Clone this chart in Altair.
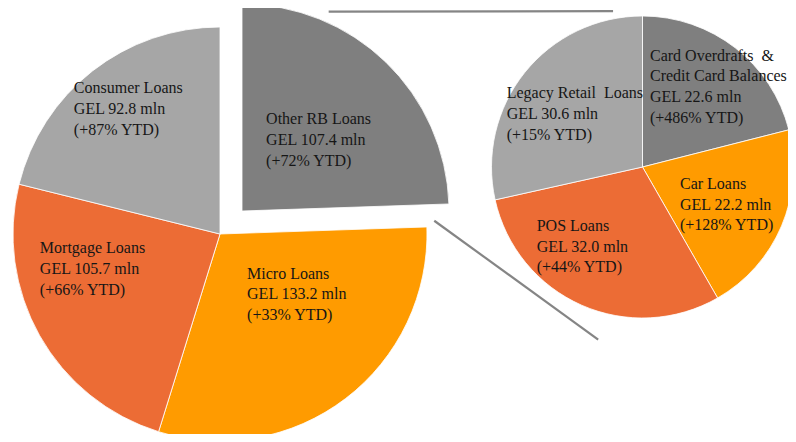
import math
import altair as alt
import pandas as pd

# ---------------- data ----------------
main_names = ["Other RB Loans", "Micro Loans", "Mortgage Loans", "Consumer Loans"]
main_values = [107.4, 133.2, 105.7, 92.8]
main_ytd = [72, 33, 66, 87]

sub_names = ["Card Overdrafts\u00a0 &\nCredit Card Balances", "Car Loans", "POS Loans", "Legacy Retail\u00a0 Loans"]
sub_values = [22.6, 22.2, 32.0, 30.6]
sub_ytd = [486, 128, 44, 15]

# ---------------- styles / layout ----------------
slice_colors = ["#7f7f7f", "#ff9b00", "#ec6c35", "#a6a6a6"]
W, H = 780, 426
MAIN_C = (212, 226)
MAIN_R = 207
EXPLODE = (22, -23)
SUB_C = (634.5, 159)
SUB_R = 151
LABEL_RF = 0.55
FONT = "Liberation Serif"
# per-label nudges (dx, dy) from the slice's mid-angle point
main_nudge = [(-55, -5), (-42, -46), (-81, -36.6), (-76, -51)]
sub_nudge = [(-43.5, -40.7), (-39, -10.4), (-72.3, -12), (-71, -16.8)]


def slices(names, values, ytd):
    total = sum(values)
    cum = 0.0
    rows = []
    for i, (n, v, y) in enumerate(zip(names, values, ytd)):
        t0 = cum / total * 2 * math.pi
        cum += v
        t1 = cum / total * 2 * math.pi
        rows.append(dict(idx=i, name=n, value=v, t0=t0, t1=t1, tm=(t0 + t1) / 2,
                         color=slice_colors[i],
                         label=f"{n}\nGEL {v:.1f} mln\n(+{y}% YTD)"))
    return pd.DataFrame(rows)


main_df = slices(main_names, main_values, main_ytd)
sub_df = slices(sub_names, sub_values, sub_ytd)

theta0 = alt.Theta("t0:Q", scale=None, stack=False)
theta1 = alt.Theta2("t1:Q")
col = alt.Color("color:N", scale=None, legend=None)
arc_style = dict(stroke="white", strokeWidth=0.8)

main_rest = alt.Chart(main_df[main_df.idx > 0]).mark_arc(outerRadius=MAIN_R, **arc_style).encode(
    theta=theta0, theta2=theta1, color=col,
    x=alt.value(MAIN_C[0]), y=alt.value(MAIN_C[1]))

ex_c = (MAIN_C[0] + EXPLODE[0], MAIN_C[1] + EXPLODE[1])
main_ex = alt.Chart(main_df[main_df.idx == 0]).mark_arc(outerRadius=MAIN_R, **arc_style).encode(
    theta=theta0, theta2=theta1, color=col,
    x=alt.value(ex_c[0]), y=alt.value(ex_c[1]))

sub_arcs = alt.Chart(sub_df).mark_arc(outerRadius=SUB_R, **arc_style).encode(
    theta=theta0, theta2=theta1, color=col,
    x=alt.value(SUB_C[0]), y=alt.value(SUB_C[1]))


# connector lines between the exploded slice and the secondary pie
def polar(c, r, deg):
    a = math.radians(deg)
    return c[0] + r * math.sin(a), c[1] - r * math.cos(a)


p1 = polar(ex_c, 1.05 * MAIN_R, 23.5)
p2 = polar(SUB_C, 1.05 * SUB_R, -10.7)
p3 = polar(ex_c, 0.93 * MAIN_R, 92.9)
p4 = polar(SUB_C, 1.18 * SUB_R, 194.4)
conn_df = pd.DataFrame([
    dict(x=p1[0], y=p1[1], x2=p2[0], y2=p2[1]),
    dict(x=p3[0], y=p3[1], x2=p4[0], y2=p4[1]),
])
connectors = alt.Chart(conn_df).mark_rule(color="#858585", strokeWidth=2.2).encode(
    x=alt.X("x:Q", scale=None, axis=None), y=alt.Y("y:Q", scale=None, axis=None),
    x2="x2:Q", y2="y2:Q")

labels = []
for df, centre, R, nudges in [(main_df, MAIN_C, MAIN_R, main_nudge), (sub_df, SUB_C, SUB_R, sub_nudge)]:
    for i, (dx, dy) in enumerate(nudges):
        c = centre
        if df is main_df and i == 0:
            c = ex_c
        labels.append(
            alt.Chart(df[df.idx == i]).mark_text(
                radius=LABEL_RF * R, dx=dx, dy=dy, align="left", baseline="alphabetic",
                font=FONT, fontSize=16, lineHeight=20.7, lineBreak="\n", color="#161616"
            ).encode(theta=alt.Theta("tm:Q", scale=None, stack=False), text="label:N",
                     x=alt.value(c[0]), y=alt.value(c[1]))
        )

chart = alt.layer(main_rest, main_ex, sub_arcs, connectors, *labels).properties(
    width=W, height=H, padding=0, autosize="none"
).configure_view(stroke=None)

chart.save("out.html", embed_options={"renderer": "svg", "actions": False})
